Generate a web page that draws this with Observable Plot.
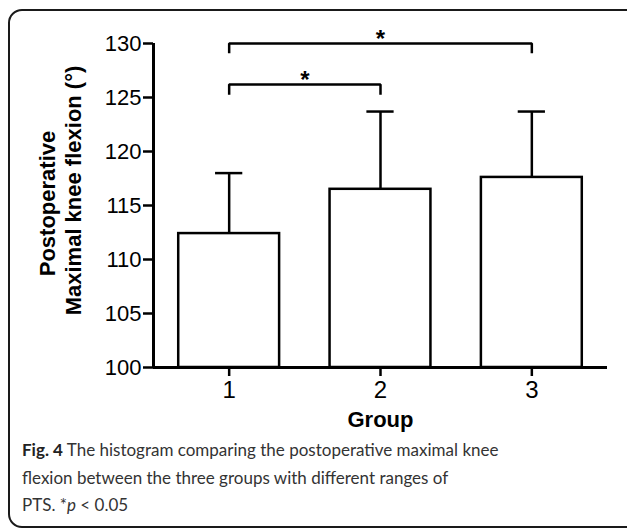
<!DOCTYPE html>
<html><head><meta charset="utf-8">
<script src="https://cdn.jsdelivr.net/npm/d3@7"></script>
<script src="https://cdn.jsdelivr.net/npm/@observablehq/plot@0.6"></script>
<style>
html,body{margin:0;padding:0;background:#fff;}
body{width:627px;height:528px;position:relative;overflow:hidden;}
#frame{position:absolute;left:8px;top:9px;width:700px;height:519px;border:2px solid #1a1a1a;border-radius:14px;box-sizing:border-box;}
#chart{position:absolute;left:0;top:0;}
#chart svg{overflow:visible;}
#chart [aria-label^="y-axis"] text{font-family:"Liberation Sans Narrow","Liberation Sans",Arial,sans-serif;font-size:22px;}
#chart [aria-label^="x-axis"] text{font-family:"Liberation Sans Narrow","Liberation Sans",Arial,sans-serif;font-size:24px;}
#chart [aria-label^="y-axis"] path,#chart [aria-label^="y-axis"] line,
#chart [aria-label^="x-axis"] path,#chart [aria-label^="x-axis"] line{stroke-width:2.5px;stroke:#000;}
#caption{position:absolute;left:22px;top:436px;font-family:Lato,"Open Sans",sans-serif;font-size:17px;line-height:27.5px;color:#333;white-space:nowrap;}
#caption b{color:#222;}
</style></head><body>
<div id="frame"></div>
<div id="chart"></div>
<div id="caption"><b>Fig. 4</b> The histogram comparing the postoperative maximal knee<br>flexion between the three groups with different ranges of<br>PTS. *<i>p</i> &lt; 0.05</div>
<script>
// data
const groups = [1, 2, 3];
const groupLabels = ["1", "2", "3"];
const means = [112.4, 116.5, 117.6];
const sds = [5.6, 7.2, 6.1];
const yTicks = [100, 105, 110, 115, 120, 125, 130];
// significance brackets
const bracketFrom = [1, 1];
const bracketTo = [2, 3];
const bracketY = [126.2, 130];
const bracketLeg = [125.25, 129.1];
const bracketLabel = ["*", "*"];

const data = groups.map((g, i) => ({group: g, label: groupLabels[i], mean: means[i], upper: means[i] + sds[i]}));
const brackets = bracketFrom.map((f, i) => ({id: i, from: f, to: bracketTo[i], y: bracketY[i], leg: bracketLeg[i], label: bracketLabel[i]}));
const bracketPts = brackets.flatMap(b => [
  {id: b.id, x: b.from, y: b.leg},
  {id: b.id, x: b.from, y: b.y},
  {id: b.id, x: b.to, y: b.y},
  {id: b.id, x: b.to, y: b.leg}
]);

const sw = 2.5;
const chart = Plot.plot({
  width: 627,
  height: 436,
  marginLeft: 153,
  marginRight: 20,
  marginTop: 43,
  marginBottom: 69,
  style: {fontFamily: "'Liberation Sans', Arial, sans-serif", fontSize: "22px", color: "#000", background: "transparent"},
  x: {type: "linear", domain: [0.5, 3.5], ticks: groups, tickFormat: (d) => groupLabels[groups.indexOf(d)], tickSize: 9, tickPadding: 4, label: null},
  y: {domain: [100, 130], ticks: yTicks, tickSize: 10, tickPadding: 2, label: null},
  marks: [
    Plot.rectY(data, {x1: d => d.group - 1/3, x2: d => d.group + 1/3, y1: 100, y2: "mean", fill: "white", stroke: "black", strokeWidth: sw}),
    Plot.ruleX(data, {x: "group", y1: "mean", y2: "upper", stroke: "black", strokeWidth: sw}),
    Plot.ruleY(data, {y: "upper", x1: d => d.group - 0.09, x2: d => d.group + 0.09, stroke: "black", strokeWidth: sw}),
    Plot.ruleX([0.5], {stroke: "black", strokeWidth: 3}),
    Plot.ruleY([100], {stroke: "black", strokeWidth: 3}),
    Plot.line(bracketPts, {x: "x", y: "y", z: "id", stroke: "black", strokeWidth: sw, strokeLinejoin: "miter", strokeLinecap: "butt"}),
    Plot.text(brackets, {x: d => (d.from + d.to) / 2, y: "y", text: "label", lineAnchor: "bottom", dy: 3, fontSize: 24, fontWeight: "bold", fill: "black"}),
    Plot.text(["Postoperative"], {frameAnchor: "left", textAnchor: "middle", lineAnchor: "middle", rotate: -90, dx: -106, dy: -2, fontSize: 22, fontWeight: "bold", fill: "black"}),
    Plot.text(["Maximal knee flexion (°)"], {frameAnchor: "left", textAnchor: "middle", lineAnchor: "middle", rotate: -90, dx: -80, dy: -15, fontSize: 22, fontWeight: "bold", fill: "black"}),
    Plot.text(["Group"], {frameAnchor: "bottom", textAnchor: "middle", lineAnchor: "middle", dy: 52, fontSize: 22, fontWeight: "bold", fill: "black"})
  ]
});
document.getElementById("chart").appendChild(chart);
</script>
</body></html>
